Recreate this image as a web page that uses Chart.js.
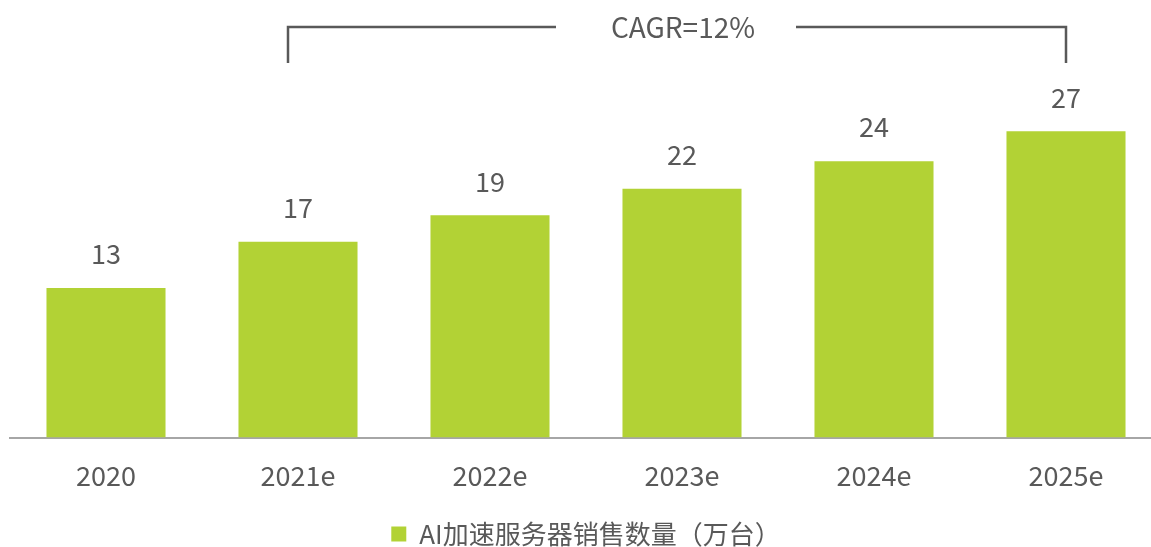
<!DOCTYPE html>
<html><head><meta charset="utf-8">
<script src="https://cdn.jsdelivr.net/npm/chart.js@4.4.1/dist/chart.umd.min.js"></script>
<style>html,body{margin:0;padding:0;background:#fff;overflow:hidden}#wrap{width:1162px;height:547px;position:relative}</style>
</head><body><div id="wrap"><canvas id="c"></canvas></div>
<script>
const categories = ["2020","2021e","2022e","2023e","2024e","2025e"];
const salesValues = [13.0, 17.0, 19.3, 21.6, 24.0, 26.6];
const valueLabels = ["13","17","19","22","24","27"];
const seriesName = "AI加速服务器销售数量（万台）";
const cagrText = "CAGR=12%";

const FONT = '"Noto Sans CJK SC","Noto Sans",sans-serif';
const GREEN = '#B2D235';
const GRAY = '#595959';

const overlay = {
  id:'overlay',
  afterDatasetsDraw(chart){
    const ctx = chart.ctx, x = chart.scales.x;
    const meta = chart.getDatasetMeta(0);
    ctx.save();
    ctx.fillStyle = GRAY;
    ctx.font = '27px ' + FONT;
    ctx.textAlign = 'center';
    ctx.textBaseline = 'middle';
    meta.data.forEach((bar,i)=>{
      ctx.fillText(valueLabels[i], bar.x, bar.y - 34);
    });
    // CAGR bracket
    const x1 = x.getPixelForValue(1) - 10, x2 = x.getPixelForValue(5);
    const yTop = 27, yBot = 63;
    ctx.strokeStyle = '#595959';
    ctx.lineWidth = 2.5;
    ctx.beginPath();
    ctx.moveTo(x1, yBot); ctx.lineTo(x1, yTop); ctx.lineTo(556, yTop);
    ctx.moveTo(796, yTop); ctx.lineTo(x2, yTop); ctx.lineTo(x2, yBot);
    ctx.stroke();
    ctx.font = '28px ' + FONT;
    ctx.fillText(cagrText, 683, yTop);
    ctx.restore();
  }
};

new Chart(document.getElementById('c'), {
  type:'bar',
  data:{labels:categories, datasets:[{label:seriesName, data:salesValues, backgroundColor:GREEN, barPercentage:0.62, categoryPercentage:1.0}]},
  options:{
    responsive:true, maintainAspectRatio:false, animation:false,
    layout:{padding:{left:10, right:0, top:0, bottom:-10}},
    plugins:{
      legend:{position:'bottom', labels:{font:{family:FONT,size:26}, color:GRAY, boxWidth:15, boxHeight:15, padding:0, useBorderRadius:false}},
      tooltip:{enabled:false}
    },
    scales:{
      x:{grid:{display:false, drawTicks:false}, border:{display:true, color:'#A6A6A6', width:2},
         ticks:{font:{family:FONT,size:27}, color:GRAY, padding:22},
         afterFit(scale){ scale.height += 7; }},
      y:{display:false, min:0, max:38}
    }
  },
  plugins:[overlay]
});
</script></body></html>
